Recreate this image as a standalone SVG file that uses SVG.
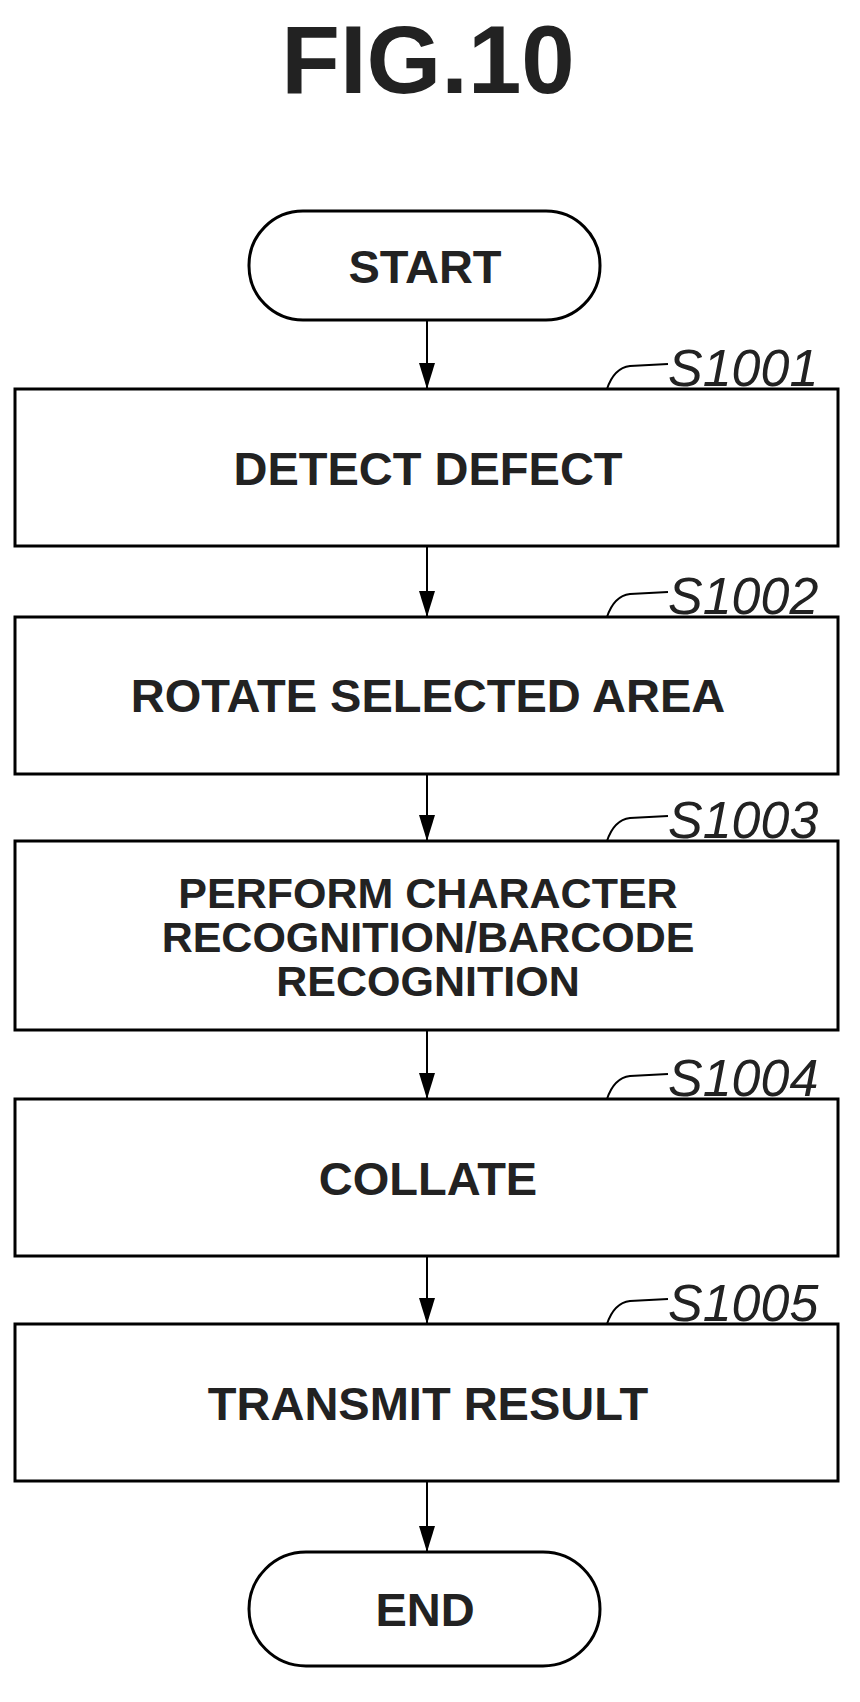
<svg xmlns="http://www.w3.org/2000/svg" width="860" height="1702" viewBox="0 0 860 1702">
<style>
.b{fill:#fff;stroke:#000;stroke-width:3}
.t{font-family:"Liberation Sans",Arial,sans-serif;font-weight:bold;font-size:47px;text-anchor:middle;fill:#222}
.m{font-size:43px}
.l{font-family:"Liberation Sans",Arial,sans-serif;font-style:italic;font-size:52px;fill:#222}
.c{fill:none;stroke:#000;stroke-width:2}
</style>
<defs><marker id="a" markerWidth="26" markerHeight="16" refX="26" refY="8" orient="auto" markerUnits="userSpaceOnUse" viewBox="0 0 26 16"><path d="M0,0 L26,8 L0,16 Z" fill="#000"/></marker></defs>
<rect width="860" height="1702" fill="#fff"/>
<text x="428" y="93" class="t" style="font-size:96px">FIG.10</text>
<g id="connectors">
<path class="c" d="M427,320 V389" marker-end="url(#a)"/>
<path class="c" d="M427,546 V617" marker-end="url(#a)"/>
<path class="c" d="M427,774 V841" marker-end="url(#a)"/>
<path class="c" d="M427,1030 V1099" marker-end="url(#a)"/>
<path class="c" d="M427,1256 V1324" marker-end="url(#a)"/>
<path class="c" d="M427,1481 V1552" marker-end="url(#a)"/>
</g>
<g id="start"><rect class="b" x="249" y="211" width="351" height="109" rx="54"/><text class="t" x="425" y="283">START</text></g>
<g id="s1001"><rect class="b" x="15" y="389" width="823" height="157"/><text class="t" x="428" y="485">DETECT DEFECT</text>
<path class="c" d="M607,389 Q614,368 630,366 L668,364"/><text class="l" x="668" y="386">S1001</text></g>
<g id="s1002"><rect class="b" x="15" y="617" width="823" height="157"/><text class="t" x="428" y="712">ROTATE SELECTED AREA</text>
<path class="c" d="M607,617 Q614,596 630,594 L668,592"/><text class="l" x="668" y="614">S1002</text></g>
<g id="s1003"><rect class="b" x="15" y="841" width="823" height="189"/><text class="t m" x="428" y="908">PERFORM CHARACTER</text><text class="t m" x="428" y="952">RECOGNITION/BARCODE</text><text class="t m" x="428" y="996">RECOGNITION</text>
<path class="c" d="M607,841 Q614,820 630,818 L668,816"/><text class="l" x="668" y="838">S1003</text></g>
<g id="s1004"><rect class="b" x="15" y="1099" width="823" height="157"/><text class="t" x="428" y="1195">COLLATE</text>
<path class="c" d="M607,1099 Q614,1078 630,1076 L668,1074"/><text class="l" x="668" y="1096">S1004</text></g>
<g id="s1005"><rect class="b" x="15" y="1324" width="823" height="157"/><text class="t" x="428" y="1420">TRANSMIT RESULT</text>
<path class="c" d="M607,1324 Q614,1303 630,1301 L668,1299"/><text class="l" x="668" y="1321">S1005</text></g>
<g id="end"><rect class="b" x="249" y="1552" width="351" height="114" rx="57"/><text class="t" x="425" y="1626">END</text></g>
</svg>
